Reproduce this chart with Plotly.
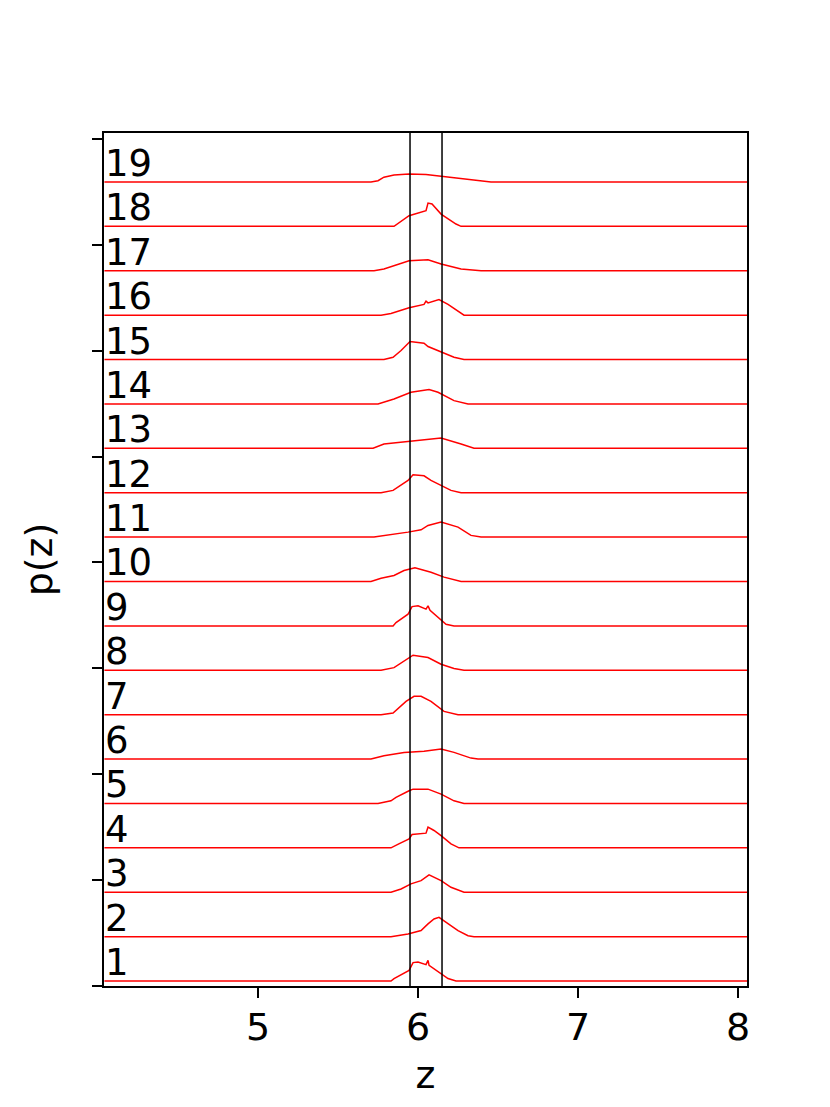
import plotly.graph_objects as go

# ---- data ----
labels = [str(i) for i in range(1, 20)]
z_min, z_max = 4.04, 8.06
vlines = [5.95, 6.15]
offset_base = 0.047
offset_step = 0.4192

curve_z = [
    [5.831, 5.85, 5.944, 5.969, 6.0, 6.05, 6.0625, 6.069, 6.125, 6.1875, 6.2375],          # 1
    [5.831, 5.9375, 6.019, 6.0625, 6.1, 6.131, 6.1625, 6.25, 6.3125, 6.35],                # 2
    [5.831, 5.894, 5.956, 6.019, 6.069, 6.144, 6.206, 6.2875],                             # 3
    [5.831, 5.88, 5.944, 5.9625, 6.05, 6.0625, 6.1, 6.144, 6.156, 6.206, 6.256],           # 4
    [5.75, 5.831, 5.8625, 5.944, 5.969, 6.0625, 6.144, 6.225, 6.2875],                     # 5
    [5.706, 5.787, 5.9125, 6.0375, 6.144, 6.225, 6.331, 6.375],                            # 6
    [5.769, 5.844, 5.925, 5.975, 6.019, 6.081, 6.1625, 6.25],                              # 7
    [5.769, 5.85, 5.9125, 5.969, 6.0625, 6.144, 6.225, 6.2875],                            # 8
    [5.844, 5.8625, 5.9375, 5.9625, 6.0, 6.05, 6.0625, 6.075, 6.125, 6.175, 6.225],        # 9
    [5.706, 5.769, 5.85, 5.9125, 5.981, 6.081, 6.1625, 6.269],                             # 10
    [5.725, 5.9375, 6.019, 6.0625, 6.144, 6.25, 6.331, 6.394],                             # 11
    [5.769, 5.844, 5.9375, 5.969, 6.0375, 6.081, 6.206, 6.269],                            # 12
    [5.719, 5.787, 5.944, 6.0625, 6.144, 6.269, 6.35],                                     # 13
    [5.75, 5.85, 5.956, 6.069, 6.125, 6.225, 6.3125],                                      # 14
    [5.787, 5.844, 5.894, 5.95, 6.0375, 6.0625, 6.125, 6.225, 6.2875],                     # 15
    [5.769, 5.831, 5.944, 6.0375, 6.05, 6.0625, 6.131, 6.1875, 6.269, 6.2875],             # 16
    [5.725, 5.787, 5.944, 6.0625, 6.144, 6.269, 6.394],                                    # 17
    [5.85, 5.944, 6.05, 6.0625, 6.0875, 6.144, 6.2375, 6.269],                             # 18
    [5.706, 5.75, 5.787, 5.85, 5.944, 6.05, 6.144, 6.25, 6.394, 6.456],                    # 19
]
curve_p = [
    [0.0, 0.023, 0.101, 0.174, 0.179, 0.155, 0.195, 0.148, 0.085, 0.023, 0.0],
    [0.0, 0.025, 0.057, 0.120, 0.167, 0.182, 0.151, 0.057, 0.009, 0.0],
    [0.0, 0.031, 0.079, 0.110, 0.164, 0.110, 0.047, 0.0],
    [0.0, 0.038, 0.085, 0.126, 0.139, 0.195, 0.164, 0.116, 0.101, 0.038, 0.0],
    [0.0, 0.025, 0.057, 0.120, 0.135, 0.135, 0.088, 0.025, 0.0],
    [0.0, 0.031, 0.063, 0.073, 0.094, 0.063, 0.009, 0.0],
    [0.0, 0.016, 0.126, 0.173, 0.173, 0.126, 0.031, 0.0],
    [0.0, 0.025, 0.088, 0.142, 0.120, 0.057, 0.016, 0.0],
    [0.0, 0.031, 0.110, 0.182, 0.189, 0.158, 0.189, 0.148, 0.079, 0.016, 0.0],
    [0.0, 0.031, 0.057, 0.104, 0.129, 0.088, 0.041, 0.0],
    [0.0, 0.047, 0.069, 0.110, 0.142, 0.094, 0.016, 0.0],
    [0.0, 0.022, 0.116, 0.170, 0.160, 0.116, 0.022, 0.0],
    [0.0, 0.041, 0.063, 0.079, 0.097, 0.041, 0.0],
    [0.0, 0.047, 0.110, 0.135, 0.110, 0.031, 0.0],
    [0.0, 0.022, 0.085, 0.170, 0.154, 0.123, 0.085, 0.022, 0.0],
    [0.0, 0.016, 0.069, 0.101, 0.132, 0.116, 0.148, 0.101, 0.016, 0.0],
    [0.0, 0.016, 0.094, 0.104, 0.063, 0.016, 0.0],
    [0.0, 0.101, 0.148, 0.220, 0.211, 0.116, 0.022, 0.0],
    [0.0, 0.012, 0.045, 0.066, 0.075, 0.070, 0.054, 0.030, 0.006, 0.0],
]
x_ticks = [5, 6, 7, 8]
y_ticks = [0, 1, 2, 3, 4, 5, 6, 7, 8]

FONT = "DejaVu Sans"
fig = go.Figure()

annotations = []
for i, (zs, ps) in enumerate(zip(curve_z, curve_p)):
    off = offset_base + offset_step * i
    xs = [z_min] + zs + [z_max]
    ys = [off] + [off + p for p in ps] + [off]
    fig.add_trace(go.Scatter(x=xs, y=ys, mode="lines",
                             line=dict(color="#ff0000", width=1.5),
                             showlegend=False, hoverinfo="skip"))
    annotations.append(dict(x=4.05, y=off, xref="x", yref="y", text=labels[i],
                            showarrow=False, xanchor="left", yanchor="bottom",
                            xshift=-3, yshift=-5,
                            font=dict(family=FONT, size=37, color="black")))

shapes = [dict(type="line", xref="x", yref="paper", x0=v, x1=v, y0=0, y1=1,
               line=dict(color="black", width=1.5)) for v in vlines]

fig.update_layout(
    width=830, height=1107,
    margin=dict(l=96, r=91, t=125, b=129),
    paper_bgcolor="white", plot_bgcolor="white",
    font=dict(family=FONT, size=38, color="black"),
    annotations=annotations, shapes=shapes,
    xaxis=dict(range=[4.0375, 8.056], tickvals=x_ticks, ticks="outside",
               ticklen=10, tickwidth=2, tickcolor="black", ticklabelstandoff=-4,
               showline=True, linewidth=2, linecolor="black", mirror=True,
               showgrid=False, zeroline=False, automargin=False,
               title=dict(text="z", font=dict(family=FONT, size=38), standoff=14),
               tickfont=dict(family=FONT, size=38)),
    yaxis=dict(range=[0, 8.055], tickvals=y_ticks, ticks="outside",
               ticklen=10, tickwidth=2, tickcolor="black", showticklabels=False,
               showline=True, linewidth=2, linecolor="black", mirror=True,
               showgrid=False, zeroline=False, automargin=False,
               title=dict(text="p(z)", font=dict(family=FONT, size=38), standoff=28)),
)

fig.write_html("out.html")
